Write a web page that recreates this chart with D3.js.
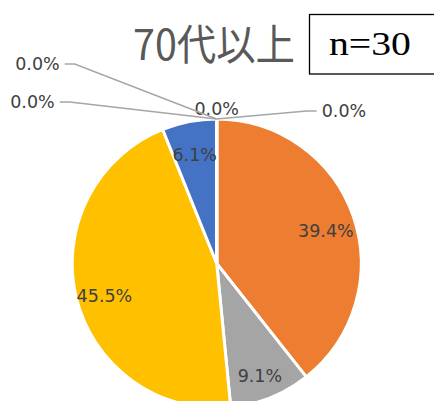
<!DOCTYPE html>
<html>
<head>
<meta charset="utf-8">
<script src="https://cdn.jsdelivr.net/npm/d3@7"></script>
<style>
  html, body { margin: 0; padding: 0; background: #fff; }
  #chart { width: 434px; height: 401px; overflow: hidden; }
</style>
</head>
<body>
<div id="chart"></div>
<script>
// slices, clockwise from 12 o'clock
var categories = ["A", "B", "C", "D", "E", "F", "G", "H"];
var percents = [39.4, 9.1, 45.5, 6.1, 0.0, 0.0, 0.0, 0.0];
var colors = ["#ED7D31", "#A5A5A5", "#FFC000", "#4472C4", "#5B9BD5", "#70AD47", "#264478", "#9E480E"];
var title = "70代以上";
var sampleLabel = "n=30";

var width = 434,
    height = 401,
    cx = 216.7,
    cy = 263.5,
    radius = 144.5;

var svg = d3.select('#chart')
    .append('svg')
    .attr('width', width)
    .attr('height', height);

/* title + n box */
svg.append('text')
    .attr('x', 133)
    .attr('y', 60)
    .attr('textLength', 162)
    .attr('lengthAdjust', 'spacingAndGlyphs')
    .style('font-family', '"Noto Sans CJK JP", sans-serif')
    .style('font-size', '42px')
    .style('font-weight', 400)
    .attr('fill', '#595959')
    .text(title);

svg.append('rect')
    .attr('x', 309.5)
    .attr('y', 14.5)
    .attr('width', 140)
    .attr('height', 59.5)
    .attr('fill', '#fff')
    .attr('stroke', '#000')
    .attr('stroke-width', 1.3);

svg.append('text')
    .attr('x', 329)
    .attr('y', 55)
    .attr('textLength', 82)
    .attr('lengthAdjust', 'spacingAndGlyphs')
    .style('font-family', '"Liberation Serif", serif')
    .style('font-size', '34px')
    .attr('fill', '#000')
    .text(sampleLabel);

/* pie */
var pie = d3.pie()
    .sort(null)
    .value(function(d) { return d; });

var arcs = pie(percents);

var arc = d3.arc()
    .innerRadius(0)
    .outerRadius(radius);

var labelArc = d3.arc()
    .innerRadius(radius * 0.8)
    .outerRadius(radius * 0.8);

var g = svg.append('g')
    .attr('transform', 'translate(' + cx + ',' + cy + ')');

g.selectAll('path')
    .data(arcs)
    .enter().append('path')
    .attr('d', arc)
    .attr('fill', function(d, i) { return colors[i]; })
    .attr('stroke', '#fff')
    .attr('stroke-width', 3)
    .append('title')
    .text(function(d, i) { return categories[i]; });

var fmt = function(v) { return d3.format('.1f')(v) + '%'; };
var labelFont = '"DejaVu Sans", sans-serif';
var labelSize = '17.5px';

// labels inside the slices
g.selectAll('text.inner')
    .data(arcs.filter(function(d) { return d.value > 0; }))
    .enter().append('text')
    .attr('class', 'inner')
    .attr('x', function(d) { return labelArc.centroid(d)[0]; })
    .attr('y', function(d) { return labelArc.centroid(d)[1] + 11; })
    .attr('text-anchor', 'middle')
    .style('font-family', labelFont)
    .style('font-size', labelSize)
    .attr('fill', '#404040')
    .text(function(d) { return fmt(d.value); });

// zero slices: callouts around the top edge (layout offsets from the slice's edge point)
var callouts = [
    { dx: 0, dy: -11, anchor: 'middle', leader: false },
    { dx: 105, dy: -9, anchor: 'start', leader: true },
    { dx: -157, dy: -56, anchor: 'end', leader: true },
    { dx: -162, dy: -18, anchor: 'end', leader: true }
];

var zeros = arcs.filter(function(d) { return d.value === 0; });

zeros.forEach(function(d, k) {
    var c = callouts[k];
    var edge = [radius * Math.sin(d.startAngle), -radius * Math.cos(d.startAngle)];
    var lx = edge[0] + c.dx,
        ly = edge[1] + c.dy;

    if (c.leader) {
        var side = c.anchor === 'start' ? -1 : 1;
        var p0 = [lx + side * 5, ly + 1];
        var p1 = [lx + side * 15, ly + 1];
        g.append('path')
            .attr('d', d3.line()([p0, p1, edge]))
            .attr('fill', 'none')
            .attr('stroke', '#A6A6A6')
            .attr('stroke-width', 1.5);
    }

    g.append('text')
        .attr('x', lx)
        .attr('y', ly + 7)
        .attr('text-anchor', c.anchor)
        .style('font-family', labelFont)
        .style('font-size', labelSize)
        .attr('fill', '#404040')
        .text(fmt(d.value));
});
</script>
</body>
</html>
